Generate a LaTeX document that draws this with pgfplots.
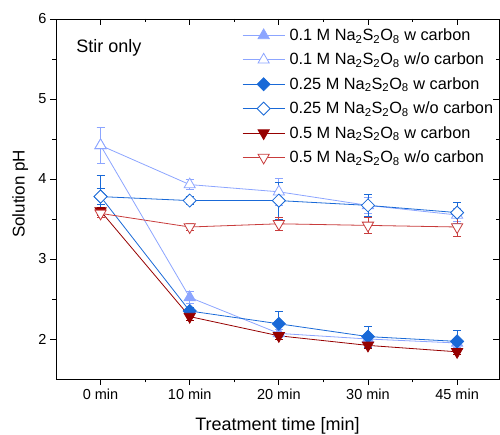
\documentclass[border=0pt]{standalone}
\usepackage{fontspec}
\setmainfont{Liberation Sans}
\usepackage{pgfplots}
\pgfplotsset{compat=1.18}

\definecolor{lblue}{RGB}{140,165,255}
\definecolor{mblue}{RGB}{25,105,215}
\definecolor{dred}{RGB}{150,0,0}
\definecolor{lred}{RGB}{200,60,60}

\newcommand{\salt}{Na\textsubscript{2}S\textsubscript{2}O\textsubscript{8}}

\pgfplotsset{
  ser/.style={line width=0.8pt, mark size=6.5pt,
    error bars/y dir=both, error bars/y explicit,
    error bars/error bar style={line width=0.8pt},
    error bars/error mark options={rotate=90, mark size=4pt, line width=0.8pt}},
}

\begin{document}
\begin{tikzpicture}
\begin{axis}[
  name=main,
  scale only axis, width=443pt, height=360pt,
  xmin=-0.5, xmax=4.47, ymin=1.5, ymax=6,
  xtick={0,1,2,3,4},
  xticklabels={0 min,10 min,20 min,30 min,45 min},
  minor xtick={0.5,1.5,2.5,3.5},
  ytick={2,3,4,5,6},
  minor ytick={2.5,3.5,4.5,5.5},
  tick pos=left, tick align=outside,
  major tick length=6pt, minor tick length=3.5pt,
  every tick/.style={black, line width=0.9pt},
  axis line style={line width=0.9pt},
  /pgf/number format/assume math mode=true,
  tick label style={font=\fontsize{14.5}{17}\selectfont},
  xlabel={Treatment time [min]},
  ylabel={Solution pH},
  xlabel style={font=\fontsize{18}{21}\selectfont, at={(axis description cs:0.5,0)}, anchor=base, yshift=-52pt},
  ylabel style={font=\fontsize{17}{20}\selectfont, at={(axis description cs:-0.081,0.514)}, anchor=center},
  legend cell align=left,
  legend image code/.code={\draw[mark repeat=2,mark phase=2] plot coordinates {(0pt,0pt)(21pt,0pt)(42pt,0pt)};},
  legend style={draw=none, fill=none, at={(axis description cs:0.42,0.979)}, anchor=north west,
    font=\fontsize{16.3}{19}\selectfont, row sep=7.1pt, inner sep=0pt,
    /tikz/every odd column/.append style={column sep=2.5pt}},
]
% 0.1 M with carbon
\addplot[ser, lblue, mark=triangle*, mark options={fill=lblue, solid}] coordinates {
  (0,4.42) +- (0,0.22)
  (1,2.52) +- (0,0.08)
  (2,2.07) +- (0,0.05)
  (3,2.00) +- (0,0.05)
  (4,1.95) +- (0,0.05)
};
\addlegendentry{0.1 M \salt{} w carbon}
% 0.1 M without carbon
\addplot[ser, lblue, mark=triangle*, mark options={fill=white, solid}] coordinates {
  (0,4.42) +- (0,0.22)
  (1,3.93) +- (0,0.06)
  (2,3.84) +- (0,0.17)
  (3,3.67) +- (0,0.10)
  (4,3.55) +- (0,0.08)
};
\addlegendentry{0.1 M \salt{} w/o carbon}
% 0.25 M with carbon
\addplot[ser, mblue, mark=square*, mark size=4.6pt, mark options={fill=mblue, rotate=45, solid}] coordinates {
  (0,3.78) +- (0,0.10)
  (1,2.35) +- (0,0.05)
  (2,2.19) +- (0,0.15)
  (3,2.03) +- (0,0.13)
  (4,1.97) +- (0,0.14)
};
\addlegendentry{0.25 M \salt{} w carbon}
% 0.25 M without carbon
\addplot[ser, mblue, mark=square*, mark size=4.6pt, mark options={fill=white, rotate=45, solid}] coordinates {
  (0,3.78) +- (0,0.26)
  (1,3.73) +- (0,0.05)
  (2,3.73) +- (0,0.23)
  (3,3.67) +- (0,0.14)
  (4,3.58) +- (0,0.13)
};
\addlegendentry{0.25 M \salt{} w/o carbon}
% 0.5 M with carbon
\addplot[ser, dred, mark=triangle*, mark options={fill=dred, rotate=180, solid}] coordinates {
  (0,3.60) +- (0,0.05)
  (1,2.28) +- (0,0.05)
  (2,2.04) +- (0,0.04)
  (3,1.92) +- (0,0.04)
  (4,1.84) +- (0,0.03)
};
\addlegendentry{0.5 M \salt{} w carbon}
% 0.5 M without carbon
\addplot[ser, lred, mark=triangle*, mark options={fill=white, rotate=180, solid}] coordinates {
  (0,3.57) +- (0,0.05)
  (1,3.40) +- (0,0.04)
  (2,3.44) +- (0,0.08)
  (3,3.42) +- (0,0.10)
  (4,3.40) +- (0,0.12)
};
\addlegendentry{0.5 M \salt{} w/o carbon}

\node[anchor=base west, font=\fontsize{18}{21}\selectfont] at (axis description cs:0.038,0.908) {Stir only};
\end{axis}
% mirrored ticks on top and right, pointing inward
\begin{axis}[
  scale only axis, width=443pt, height=360pt,
  xmin=-0.5, xmax=4.47, ymin=1.5, ymax=6,
  xtick={0,1,2,3,4}, xticklabels={},
  minor xtick={0.5,1.5,2.5,3.5},
  ytick={2,3,4,5,6}, yticklabels={},
  minor ytick={2.5,3.5,4.5,5.5},
  tick pos=right, tick align=inside,
  major tick length=6pt, minor tick length=3.5pt,
  every tick/.style={black, line width=0.9pt},
  axis line style={line width=0.9pt},
]
\end{axis}
\pgfresetboundingbox
\path ([shift={(-56pt,-56pt)}]main.south west) rectangle ([shift={(1pt,19pt)}]main.north east);
\end{tikzpicture}
\end{document}
